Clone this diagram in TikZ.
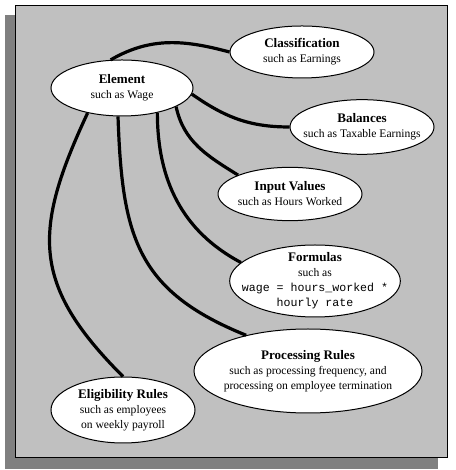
\documentclass[tikz,border=0pt]{standalone}
\usepackage{fontspec}
\setmainfont{Liberation Serif}
\setmonofont{Liberation Mono}
\usetikzlibrary{shapes.geometric}
\definecolor{panelgray}{HTML}{C0C0C0}
\definecolor{shadowgray}{HTML}{808080}
\newcommand{\bubtitle}[1]{{\fontsize{9.8}{11.25}\selectfont\bfseries #1}}
\tikzset{
  bubble/.style={ellipse, draw, fill=white, line width=0.75pt, inner sep=0pt},
  bubtext/.style={align=center, inner sep=0pt, font=\fontsize{8.7}{11.25}\selectfont},
  link/.style={line width=2.4pt},
}
\begin{document}
\begin{tikzpicture}[x=0.75pt, y=0.75pt]
    \useasboundingbox (0, 0) rectangle (455, 470);
    \fill[shadowgray] (5, 1) rectangle (438, 455);
    \draw[fill=panelgray, line width=0.75pt] (15, 12) rectangle (447, 464);

    \node[bubble, minimum width=106.5pt, minimum height=42pt,
      label={[bubtext]center:\bubtitle{Element}\\such as Wage}] (element) at (122, 382) {};
    \node[bubble, minimum width=108pt, minimum height=39pt,
      label={[bubtext]center:\bubtitle{Classification}\\such as Earnings}] (classif) at (302, 418) {};
    \node[bubble, minimum width=108pt, minimum height=41pt,
      label={[bubtext]center:\bubtitle{Balances}\\such as Taxable Earnings}] (balances) at (362, 343) {};
    \node[bubble, minimum width=108pt, minimum height=40pt,
      label={[bubtext]center:\bubtitle{Input Values}\\such as Hours Worked}] (input) at (290, 276) {};
    \node[bubble, minimum width=128pt, minimum height=54pt,
      label={[bubtext]center:\bubtitle{Formulas}\\such as\\\texttt{wage = hours\_worked *}\\\texttt{hourly rate}}] (formulas) at (315, 189) {};
    \node[bubble, minimum width=171pt, minimum height=63pt,
      label={[bubtext]center:\bubtitle{Processing Rules}\\such as processing frequency, and\\processing on employee termination}] (proc) at (308, 99) {};
    \node[bubble, minimum width=108pt, minimum height=49.5pt,
      label={[bubtext]center:\bubtitle{Eligibility Rules}\\such as employees\\on weekly payroll}] (elig) at (123, 60) {};

    % connectors
    \draw[link] (element.112) to[out=30, in=165] (classif.west);
    \draw[link] (element.-5) to[out=-35, in=180] (balances.west);
    \draw[link] (element.-19) to[out=-78, in=148] (input.160);
    \draw[link] (element.-35) to[out=-90, in=152] (formulas.166);
    \draw[link] (element.-98) to[out=-88, in=158, looseness=1.2] (proc.150);
    \draw[link] (element.-144) to[out=-115, in=135, looseness=1.25] (elig.north);
\end{tikzpicture}
\end{document}
